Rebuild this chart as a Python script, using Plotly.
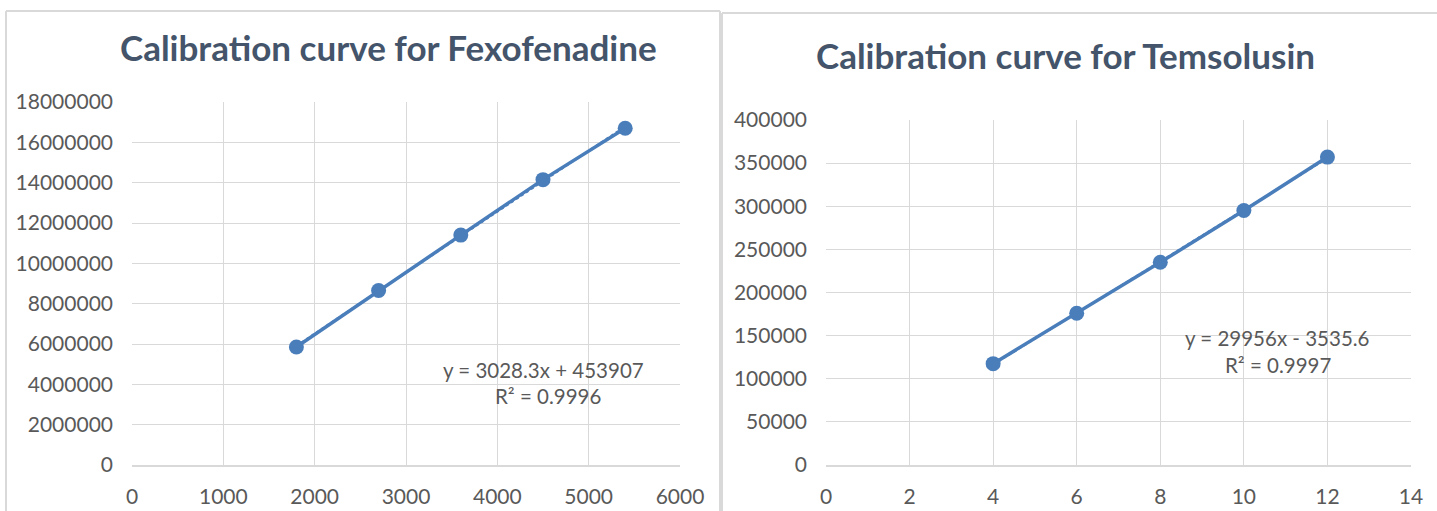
import numpy as np
import plotly.graph_objects as go

# Data
fexo_x = [1800, 2700, 3600, 4500, 5400]
fexo_y = [5850000, 8650000, 11400000, 14150000, 16700000]
fexo_eq = "y = 3028.3x + 453907"
fexo_r2 = "R² = 0.9996"
fexo_title = "Calibration curve for Fexofenadine"

tems_x = [4, 6, 8, 10, 12]
tems_y = [117500, 176000, 235000, 295000, 357000]
tems_eq = "y = 29956x - 3535.6"
tems_r2 = "R² = 0.9997"
tems_title = "Calibration curve for Temsolusin"

W, H = 1437, 511
BLUE = "#4A7EBB"
GRID = "#D9D9D9"
TXT = "#595959"
TITLE = "#44546A"
FONT = "Lato"

def px(x):
    return x / W

def py(y):
    return 1 - y / H

fig = go.Figure()

# Trendlines (dotted) from least squares fits, then series
for xs, ys, xa, ya in [(fexo_x, fexo_y, "x", "y"), (tems_x, tems_y, "x2", "y2")]:
    m, b = np.polyfit(xs, ys, 1)
    tx = [xs[0], xs[-1]]
    ty = [m * v + b for v in tx]
    fig.add_trace(go.Scatter(x=tx, y=ty, mode="lines", xaxis=xa, yaxis=ya,
                             line=dict(color=BLUE, width=2, dash="dot"),
                             showlegend=False, hoverinfo="skip"))
    fig.add_trace(go.Scatter(x=xs, y=ys, mode="lines+markers", xaxis=xa, yaxis=ya,
                             line=dict(color=BLUE, width=3.5),
                             marker=dict(color=BLUE, size=15),
                             showlegend=False))

tickfont = dict(family=FONT, size=21, color=TXT)
xcommon = dict(showgrid=True, gridcolor=GRID, gridwidth=1.3, zeroline=False, ticks="",
               tickfont=tickfont, showline=True, linecolor=GRID, linewidth=1.5,
               automargin=False, ticklabelstandoff=12)
ycommon = dict(showgrid=True, gridcolor=GRID, gridwidth=1.3, zeroline=False, ticks="",
               tickfont=tickfont, showline=False, automargin=False, tickformat="d",
               ticklabelstandoff=18)

fig.update_layout(
    width=W, height=H,
    margin=dict(l=0, r=0, t=0, b=0, autoexpand=False),
    paper_bgcolor="white", plot_bgcolor="white",
    xaxis=dict(domain=[px(132), px(680)], range=[0, 6000], dtick=1000, anchor="y", **xcommon),
    yaxis=dict(domain=[py(465), py(102)], range=[0, 18000000], dtick=2000000, anchor="x", **ycommon),
    xaxis2=dict(domain=[px(826), px(1411)], range=[0, 14], dtick=2, anchor="y2", **xcommon),
    yaxis2=dict(domain=[py(465), py(120)], range=[0, 400000], dtick=50000, anchor="x2", **ycommon),
)

# Panel borders
border = dict(color=GRID, width=2)
for (x0, y0, x1, y1) in [(6, 11, 720, 11), (6, 11, 6, 511), (720, 11, 720, 511),
                         (722, 13, 1437, 13), (722, 13, 722, 511)]:
    fig.add_shape(type="line", xref="paper", yref="paper", x0=px(x0), x1=px(x1),
                  y0=py(y0), y1=py(y1), line=border, layer="below")

# Titles
fig.add_annotation(text=f"<b>{fexo_title}</b>", xref="paper", yref="paper", x=px(388), y=py(47),
                   xanchor="center", yanchor="middle", showarrow=False,
                   font=dict(family=FONT, size=35, color=TITLE))
fig.add_annotation(text=f"<b>{tems_title}</b>", xref="paper", yref="paper", x=px(1065), y=py(55),
                   xanchor="center", yanchor="middle", showarrow=False,
                   font=dict(family=FONT, size=35, color=TITLE))

# Equations
for txt, x, y in [(fexo_eq, 543, 370), (fexo_r2, 548, 396), (tems_eq, 1277, 338), (tems_r2, 1278, 365)]:
    fig.add_annotation(text=txt, xref="paper", yref="paper", x=px(x), y=py(y), showarrow=False,
                       xanchor="center", yanchor="middle",
                       font=dict(family=FONT, size=20.5, color=TXT))

fig.write_html("out.html")
